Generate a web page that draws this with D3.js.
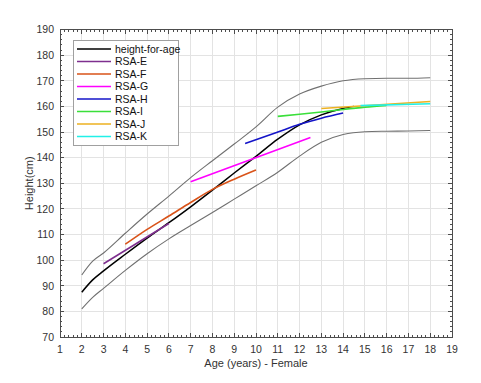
<!DOCTYPE html>
<html><head><meta charset="utf-8">
<script src="https://cdn.jsdelivr.net/npm/d3@7"></script>
<style>body{margin:0;background:#fff}svg{display:block}text{font-family:"Liberation Sans",Arial,sans-serif}</style>
</head><body>
<svg id="c" width="481" height="383"></svg>
<script>
const refAges = [2,2.5,3,4,5,6,7,8,9,10,11,12,13,14,15,16,17,18];
const upperVals = [94.2,99.6,102.8,110.5,118,125,132.2,138.8,145.3,152,159.7,164.8,167.9,170,170.8,171,171,171.2];
const lowerVals = [81,85.5,89,96,102.5,108.3,113.5,118.6,123.8,129,134.3,140.6,146,149,150.1,150.3,150.4,150.6];
const medianAges = [2,2.5,3,4,5,6,7,8,9,10,11,12,13,14,14.5];
const medianVals = [87.5,92.3,95.8,102.3,108.6,114.6,120.8,127.3,134,140.5,147.2,152.8,156.7,159.2,160];
const seriesNames = ["RSA-E","RSA-F","RSA-G","RSA-H","RSA-I","RSA-J","RSA-K"];
const seriesColors = ["#7E2F8E","#D95319","#FF00FF","#1414C8","#3ADF3A","#EDB120","#22F0E8"];
const rsaE = [[3,98.6],[6,114.3]];
const rsaF = [[4,106.2],[5,112],[6,117.2],[7,122.5],[8,127.6],[9,131.6],[10,135.2]];
const rsaG = [[7,130.6],[12.5,147.9]];
const rsaH = [[9.5,145.5],[11,150],[12,153],[13,155.4],[14,157.4]];
const rsaI = [[11,156.1],[12,156.9],[13,157.8],[14,158.8],[15,159.7],[16,160.4]];
const rsaJ = [[13,159.2],[18,161.9]];
const rsaK = [[14.8,160.3],[18,161]];
const seriesData = [rsaE,rsaF,rsaG,rsaH,rsaI,rsaJ,rsaK];
const xTicks = d3.range(1,20,1);
const yTicks = d3.range(70,191,10);

const svg = d3.select("#c");
const L=60,R=452,T=29.5,B=337;
const x = d3.scaleLinear().domain([1,19]).range([L,R]);
const y = d3.scaleLinear().domain([70,190]).range([B,T]);
const axisCol="#4d4d4d", txtCol="#333";

// grid
const g = svg.append("g");
g.selectAll(".gx").data(xTicks.slice(1,-1)).join("line")
 .attr("x1",d=>x(d)).attr("x2",d=>x(d)).attr("y1",T).attr("y2",B)
 .attr("stroke","#e3e3e3").attr("stroke-width",1).attr("shape-rendering","crispEdges");
g.selectAll(".gy").data(yTicks.slice(1,-1)).join("line")
 .attr("y1",d=>y(d)).attr("y2",d=>y(d)).attr("x1",L).attr("x2",R)
 .attr("stroke","#e3e3e3").attr("stroke-width",1).attr("shape-rendering","crispEdges");

// axes with inward ticks
const xMinor = d3.range(1,19.001,0.2);
const yMinor = d3.range(70,190.001,2);
const ax = svg.append("g").attr("stroke",axisCol).attr("shape-rendering","crispEdges");
[[B,-1],[T,1]].forEach(([yy,dir])=>{
  ax.selectAll(null).data(xMinor).join("line").attr("x1",d=>x(d)).attr("x2",d=>x(d)).attr("y1",yy).attr("y2",yy+dir*2);
  ax.selectAll(null).data(xTicks).join("line").attr("x1",d=>x(d)).attr("x2",d=>x(d)).attr("y1",yy).attr("y2",yy+dir*4);
});
[[L,1],[R,-1]].forEach(([xx,dir])=>{
  ax.selectAll(null).data(yMinor).join("line").attr("y1",d=>y(d)).attr("y2",d=>y(d)).attr("x1",xx).attr("x2",xx+dir*2);
  ax.selectAll(null).data(yTicks).join("line").attr("y1",d=>y(d)).attr("y2",d=>y(d)).attr("x1",xx).attr("x2",xx+dir*4);
});
svg.append("rect").attr("x",L).attr("y",T).attr("width",R-L).attr("height",B-T)
 .attr("fill","none").attr("stroke",axisCol).attr("shape-rendering","crispEdges");

// tick labels
svg.append("g").selectAll("text").data(xTicks).join("text")
 .attr("x",d=>x(d)).attr("y",B+16).attr("text-anchor","middle").attr("font-size",10.5).attr("fill",txtCol).text(d=>d);
svg.append("g").selectAll("text").data(yTicks).join("text")
 .attr("x",L-6).attr("y",d=>y(d)+3.8).attr("text-anchor","end").attr("font-size",10.5).attr("fill",txtCol).text(d=>d);
svg.append("text").attr("x",(L+R)/2).attr("y",B+30).attr("text-anchor","middle").attr("font-size",11).attr("fill",txtCol).text("Age (years) - Female");
svg.append("text").attr("transform",`translate(${L-27},${(T+B)/2}) rotate(-90)`).attr("text-anchor","middle").attr("font-size",11).attr("fill",txtCol).text("Height(cm)");

// curves
const lineS = d3.line().x(d=>x(d[0])).y(d=>y(d[1])).curve(d3.curveMonotoneX);
const lineL = d3.line().x(d=>x(d[0])).y(d=>y(d[1]));
const zip=(a,b)=>a.map((v,i)=>[v,b[i]]);
svg.append("path").attr("d",lineS(zip(refAges,upperVals))).attr("fill","none").attr("stroke","#707070").attr("stroke-width",1.1);
svg.append("path").attr("d",lineS(zip(refAges,lowerVals))).attr("fill","none").attr("stroke","#707070").attr("stroke-width",1.1);
svg.append("path").attr("d",lineS(zip(medianAges,medianVals))).attr("fill","none").attr("stroke","#000").attr("stroke-width",1.5);
seriesData.forEach((s,i)=>{
  svg.append("path").attr("d",(s.length>2?lineS:lineL)(s)).attr("fill","none").attr("stroke",seriesColors[i]).attr("stroke-width",1.6);
});

// legend
const lg = svg.append("g");
lg.append("rect").attr("x",73.5).attr("y",40.5).attr("width",105).attr("height",105)
 .attr("fill","#fff").attr("stroke","#a0a0a0").attr("stroke-width",1);
const names = ["height-for-age"].concat(seriesNames);
const cols = ["#000"].concat(seriesColors);
names.forEach((n,i)=>{
  const yy = 49 + i*12.5;
  lg.append("line").attr("x1",77).attr("x2",111).attr("y1",yy).attr("y2",yy).attr("stroke",cols[i]).attr("stroke-width",1.6);
  lg.append("text").attr("x",115).attr("y",yy+3.6).attr("font-size",10.5).attr("fill","#111").text(n);
});
</script>
</body></html>
